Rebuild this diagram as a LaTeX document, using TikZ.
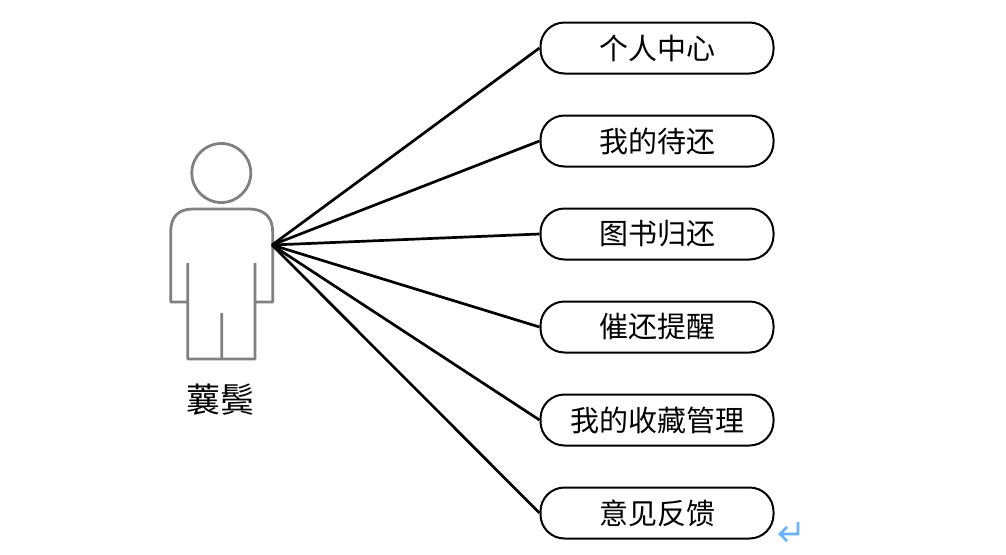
\documentclass[tikz,border=0pt]{standalone}
\usepackage{fontspec}
\newfontfamily\cjkb{Noto Sans CJK SC}
\tikzset{
  usecase/.style={draw=black,line width=2pt,rounded corners=24pt,minimum width=233pt,minimum height=51pt,inner sep=0pt,font=\cjkb\fontsize{29}{29}\selectfont,fill=white},
  conn/.style={draw=black,line width=2.7pt},
  figure/.style={draw=black!50,line width=2.8pt,line join=round},
}
\begin{document}
\begin{tikzpicture}[x=1pt,y=-1pt]
\useasboundingbox (0,0) rectangle (1006,554);
\coordinate (hub) at (272,245);
\path[figure] (221.3,173) circle (29.500)
  (187.7,302) -- (170.7,302) -- (170.7,232) .. controls (170.7,217) and (178,209) .. (193,209) -- (249,209) .. controls (264,209) and (272.7,217) .. (272.7,232) -- (272.7,302) -- (255,302)
  (187.7,263) -- (187.7,359) -- (255,359) -- (255,263)
  (221.7,313) -- (221.7,359);
\node[usecase] (a) at (657,48) {个人中心};
\node[usecase] (b) at (657,141) {我的待还};
\node[usecase] (c) at (657,234) {图书归还};
\node[usecase] (d) at (657,327) {催还提醒};
\node[usecase] (e) at (657,420) {我的收藏管理};
\node[usecase] (f) at (657,513) {意见反馈};
\foreach \n in {a,b,c,d,e,f} \draw[conn] (hub) -- (\n.west);
\node[font=\cjkb\fontsize{34}{34}\selectfont] (name) at (220,400) {蘘鬓};
\draw[draw=blue!50!cyan!60,line width=2.6pt] (798,522) -- (798,534) -- (780,534) (787,527) -- (780,534) -- (787,541);
\end{tikzpicture}
\end{document}
